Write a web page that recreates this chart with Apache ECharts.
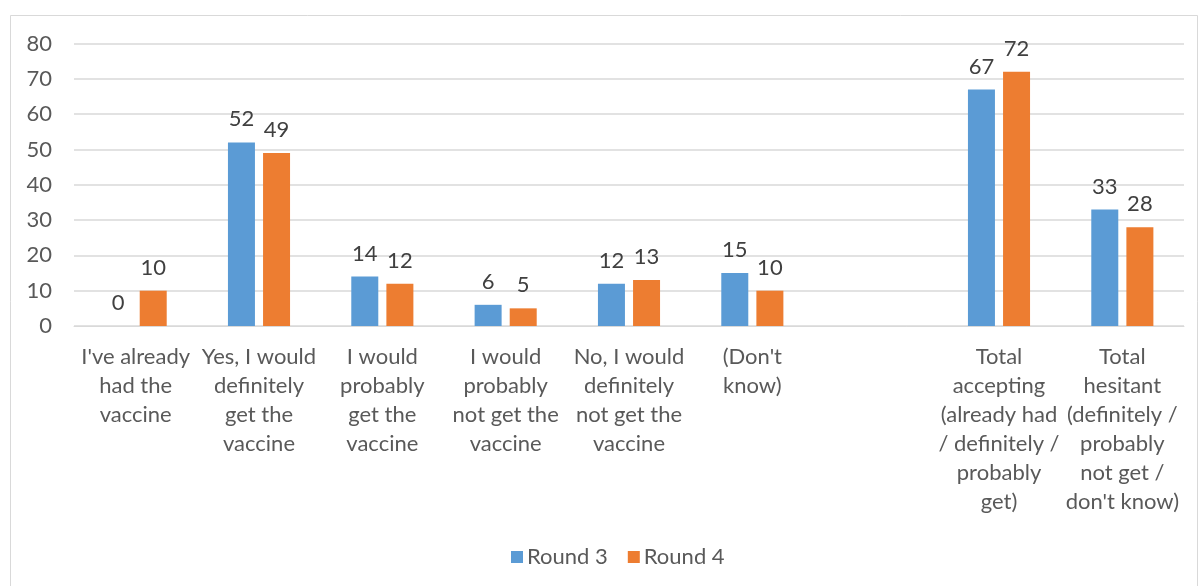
<!DOCTYPE html>
<html>
<head>
<meta charset="utf-8">
<script src="https://cdn.jsdelivr.net/npm/echarts@6/dist/echarts.min.js"></script>
<style>
  html, body { margin: 0; padding: 0; background: #fff; }
  #chart { width: 1200px; height: 586px; }
</style>
</head>
<body>
<div id="chart"></div>
<script>
// Survey answers; the blank slot separates individual answers from the totals
const categories = [
  "I've already\nhad the\nvaccine",
  "Yes, I would\ndefinitely\nget the\nvaccine",
  "I would\nprobably\nget the\nvaccine",
  "I would\nprobably\nnot get the\nvaccine",
  "No, I would\ndefinitely\nnot get the\nvaccine",
  "(Don't\nknow)",
  "",
  "Total\naccepting\n(already had\n/ definitely /\nprobably\nget)",
  "Total\nhesitant\n(definitely /\nprobably\nnot get /\ndon't know)"
];
const round3 = [0, 52, 14, 6, 12, 15, null, 67, 33];
const round4 = [10, 49, 12, 5, 13, 10, null, 72, 28];
const seriesNames = ["Round 3", "Round 4"];
const yTicks = { min: 0, max: 80, interval: 10 };

const FONT = "Lato, 'Open Sans', sans-serif";
const FS = 22;
const chart = echarts.init(document.getElementById('chart'), null, { renderer: 'canvas' });

const labelStyle = {
  show: true,
  position: 'top',
  distance: 12,
  color: '#404040',
  fontFamily: FONT,
  fontSize: FS,
  formatter: p => (p.value === null || p.value === undefined) ? '' : p.value
};

chart.setOption({
  animation: false,
  backgroundColor: '#ffffff',
  graphic: [{
    type: 'rect',
    shape: { x: 10.5, y: 15.5, width: 1187, height: 600 },
    style: { fill: 'none', stroke: '#d9d9d9', lineWidth: 1 },
    silent: true
  }],
  grid: { left: 74, right: 16, top: 43.5, bottom: 260, containLabel: false },
  legend: {
    bottom: 13,
    left: 506,
    itemWidth: 12,
    itemHeight: 12,
    itemGap: 20,
    icon: 'rect',
    textStyle: { color: '#595959', fontFamily: FONT, fontSize: FS, padding: [0, 0, 0, -1] },
    data: seriesNames
  },
  xAxis: {
    type: 'category',
    data: categories,
    axisLine: { show: true, lineStyle: { color: '#d9d9d9', width: 1 } },
    axisTick: { show: false },
    axisLabel: {
      interval: 0,
      margin: 16,
      color: '#595959',
      fontFamily: FONT,
      fontSize: FS,
      lineHeight: 29,
      align: 'center'
    }
  },
  yAxis: {
    type: 'value',
    min: yTicks.min,
    max: yTicks.max,
    interval: yTicks.interval,
    axisLine: { show: false },
    axisTick: { show: false },
    axisLabel: { color: '#595959', fontFamily: FONT, fontSize: FS, margin: 22 },
    splitLine: { lineStyle: { color: '#d9d9d9', width: 1.5 } }
  },
  series: [
    {
      name: seriesNames[0],
      type: 'bar',
      data: round3,
      barWidth: 27,
      barGap: '30%',
      itemStyle: { color: '#5b9bd5' },
      label: labelStyle
    },
    {
      name: seriesNames[1],
      type: 'bar',
      data: round4,
      barWidth: 27,
      barGap: '30%',
      itemStyle: { color: '#ed7d31' },
      label: labelStyle
    }
  ]
});
</script>
</body>
</html>
